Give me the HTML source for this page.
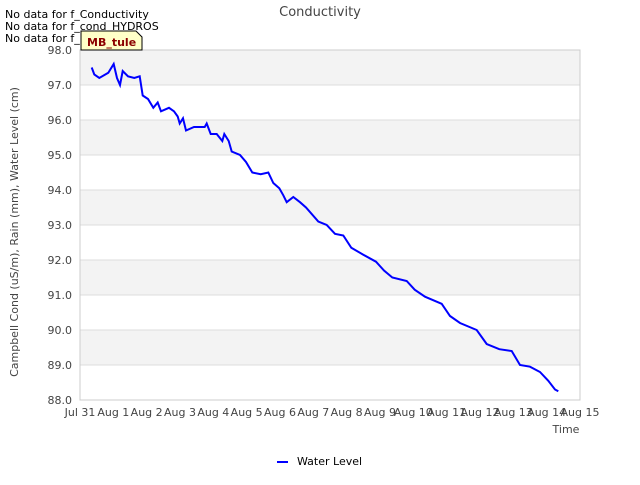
<!DOCTYPE html>
<html><head><meta charset="utf-8"><style>
body{margin:0;background:#fff;font-family:"Liberation Sans","DejaVu Sans",sans-serif}
svg text{font-family:"DejaVu Sans","Liberation Sans",sans-serif}
</style></head><body>
<svg id="chart" width="640" height="480" xmlns="http://www.w3.org/2000/svg">
<text x="320" y="16" text-anchor="middle" font-size="13" fill="#444">Conductivity</text>
<g font-size="11" fill="#000">
<text x="5" y="18">No data for f_Conductivity</text>
<text x="5" y="30">No data for f_cond_HYDROS</text>
<text x="5" y="42">No data for f_ppt</text>
</g>
<g id="bands"></g>
<g id="yticks"></g>
<g id="xticks"></g>
<rect x="80" y="50" width="500" height="350" fill="none" stroke="#ccc"/>
<polyline id="line" fill="none" stroke="#0000ff" stroke-width="2"/>
<g>
<path d="M81,31 H136 L142,37 V50 H81 Z" fill="#ffffc8" stroke="#000" stroke-width="1"/>
<text x="87" y="46" font-size="11" font-weight="bold" fill="#8b0000">MB_tule</text>
</g>
<text x="18" y="232" transform="rotate(-90 18 232)" text-anchor="middle" font-size="11" fill="#444">Campbell Cond (uS/m), Rain (mm), Water Level (cm)</text>
<text x="566" y="433" text-anchor="middle" font-size="11" fill="#444">Time</text>
<g>
<line x1="277" y1="462" x2="288" y2="462" stroke="#0000ff" stroke-width="2"/>
<text x="297" y="465" font-size="11" fill="#000">Water Level</text>
</g>
</svg>
<script>
const xTickLabels=["Jul 31","Aug 1","Aug 2","Aug 3","Aug 4","Aug 5","Aug 6","Aug 7","Aug 8","Aug 9","Aug 10","Aug 11","Aug 12","Aug 13","Aug 14","Aug 15"];
const yTickValues=[88,89,90,91,92,93,94,95,96,97,98];
const days=[0.35,0.43,0.58,0.85,1.01,1.11,1.2,1.28,1.44,1.63,1.79,1.88,2.04,2.2,2.33,2.43,2.67,2.82,2.93,2.99,3.09,3.18,3.42,3.74,3.8,3.92,4.1,4.27,4.33,4.46,4.55,4.8,4.98,5.17,5.42,5.65,5.8,5.98,6.1,6.2,6.4,6.6,6.78,7.15,7.4,7.65,7.9,8.14,8.5,8.88,9.12,9.37,9.8,10.04,10.35,10.85,11.1,11.4,11.9,12.2,12.58,12.95,13.2,13.5,13.8,14.05,14.25,14.35];
const waterLevel=[97.5,97.3,97.2,97.35,97.6,97.2,97.0,97.4,97.25,97.2,97.25,96.7,96.6,96.35,96.5,96.25,96.35,96.25,96.1,95.9,96.05,95.7,95.8,95.8,95.9,95.6,95.6,95.4,95.6,95.4,95.1,95.0,94.8,94.5,94.45,94.5,94.2,94.05,93.85,93.65,93.8,93.65,93.5,93.1,93.0,92.75,92.7,92.35,92.15,91.95,91.7,91.5,91.4,91.15,90.95,90.75,90.4,90.2,90.0,89.6,89.45,89.4,89.0,88.95,88.8,88.55,88.3,88.25];
const X=d=>80+d*500/15, Y=v=>50+(98-v)*35;
const NS="http://www.w3.org/2000/svg";
const bands=document.getElementById('bands'),yt=document.getElementById('yticks'),xt=document.getElementById('xticks');
for(let i=0;i<yTickValues.length-1;i++){const v=yTickValues[i];
 const r=document.createElementNS(NS,'rect');
 
 
 r.setAttribute('x',80);r.setAttribute('y',Y(v+1));r.setAttribute('width',500);r.setAttribute('height',35);
 r.setAttribute('fill',(v%2===1)?'#f3f3f3':'#ffffff');bands.appendChild(r);}
yTickValues.forEach(v=>{
 const l=document.createElementNS(NS,'line');
 
 
 l.setAttribute('x1',80);l.setAttribute('x2',580);l.setAttribute('y1',Y(v));l.setAttribute('y2',Y(v));l.setAttribute('stroke','#ddd');yt.appendChild(l);
 const t=document.createElementNS(NS,'text');
 
 
 t.setAttribute('x',72);t.setAttribute('y',Y(v)+4);t.setAttribute('text-anchor','end');t.setAttribute('font-size','11');t.setAttribute('fill','#444');t.textContent=v.toFixed(1);yt.appendChild(t);});
xTickLabels.forEach((s,i)=>{
 const t=document.createElementNS(NS,'text');
 
 
 t.setAttribute('x',X(i));t.setAttribute('y',416);t.setAttribute('text-anchor','middle');t.setAttribute('font-size','11');t.setAttribute('fill','#444');t.textContent=s;xt.appendChild(t);});
document.getElementById('line').setAttribute('points',days.map((d,i)=>X(d).toFixed(1)+','+Y(waterLevel[i]).toFixed(1)).join(' '));
</script>
</body></html>
